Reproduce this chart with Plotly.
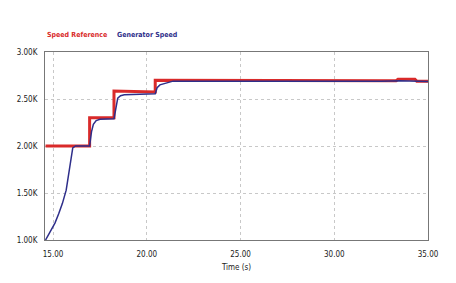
import plotly.graph_objects as go

# Speed reference (step profile)
ref_time = [14.6, 16.95, 16.95, 18.25, 18.25, 20.45, 20.45, 33.3, 33.4, 34.3, 34.4, 35.0]
ref_speed = [2000, 2000, 2300, 2300, 2585, 2575, 2700, 2695, 2710, 2710, 2690, 2690]

# Generator speed
gen_time = [14.6, 14.9, 15.1, 15.3, 15.5, 15.7, 15.9, 16.05, 16.2, 16.95, 17.05, 17.15,
            17.3, 17.5, 18.25, 18.35, 18.45, 18.6, 18.8, 20.45, 20.55, 20.7, 20.9, 21.1,
            21.4, 32.5, 33.5, 34.5, 35.0]
gen_speed = [1000, 1100, 1180, 1280, 1390, 1530, 1770, 1980, 2000, 2000, 2150, 2230,
             2270, 2285, 2290, 2420, 2510, 2535, 2545, 2555, 2620, 2650, 2660, 2675,
             2690, 2690, 2695, 2690, 2685]

x_ticks = [15, 20, 25, 30, 35]
x_tick_labels = ["15.00", "20.00", "25.00", "30.00", "35.00"]
y_ticks = [1000, 1500, 2000, 2500, 3000]
y_tick_labels = ["1.00K", "1.50K", "2.00K", "2.50K", "3.00K"]

FONT = "DejaVu Sans Condensed, Liberation Sans Narrow, Liberation Sans, sans-serif"
RED = "#d92a2a"
BLUE = "#2e2e8a"

fig = go.Figure()
fig.add_trace(go.Scatter(x=ref_time, y=ref_speed, mode="lines", name="Speed Reference",
                         line=dict(color=RED, width=3)))
fig.add_trace(go.Scatter(x=gen_time, y=gen_speed, mode="lines", name="Generator Speed",
                         line=dict(color=BLUE, width=1.5)))

fig.update_layout(
    width=456, height=283,
    margin=dict(l=45, r=28, t=52, b=43),
    paper_bgcolor="white", plot_bgcolor="white",
    showlegend=False,
    font=dict(family=FONT, size=8, color="#222"),
    annotations=[
        dict(text="<b>Speed Reference</b>", x=0, y=1.06, xref="paper", yref="paper",
             xanchor="left", yanchor="bottom", showarrow=False,
             font=dict(family=FONT, size=7, color=RED)),
        dict(text="<b>Generator Speed</b>", x=0.183, y=1.06, xref="paper", yref="paper",
             xanchor="left", yanchor="bottom", showarrow=False,
             font=dict(family=FONT, size=7, color=BLUE)),
    ],
)
fig.update_xaxes(range=[14.57, 35], tickvals=x_ticks, ticktext=x_tick_labels,
                 showgrid=True, gridcolor="#c8c8c8", griddash="dot", gridwidth=1,
                 showline=True, linecolor="#777", linewidth=1, mirror=True,
                 ticks="", zeroline=False, ticklabelstandoff=6,
                 title=dict(text="Time (s)", font=dict(family=FONT, size=8), standoff=6))
fig.update_yaxes(range=[1000, 3000], tickvals=y_ticks, ticktext=y_tick_labels,
                 showgrid=True, gridcolor="#c8c8c8", griddash="dot", gridwidth=1,
                 showline=True, linecolor="#777", linewidth=1, mirror=True,
                 ticks="", zeroline=False, ticklabelstandoff=5)

fig.write_html("out.html")
